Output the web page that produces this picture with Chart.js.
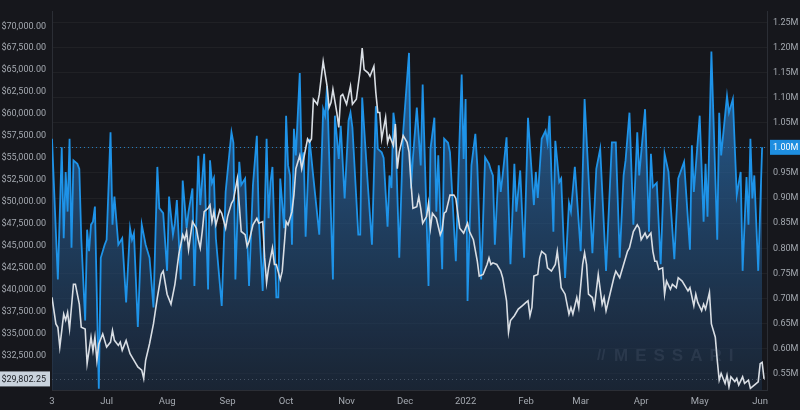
<!DOCTYPE html>
<html>
<head>
<meta charset="utf-8">
<script src="https://cdn.jsdelivr.net/npm/chart.js@4.4.0/dist/chart.umd.min.js"></script>
<style>
    html, body { margin: 0; padding: 0; background: #16171c; }
    #wrap { width: 800px; height: 410px; }
</style>
</head>
<body>
<div id="wrap"><canvas id="myChart" width="800" height="410"></canvas></div>
<script>
// Eje X: días desde el 3 de junio de 2021
var tickDays = [0, 28, 59, 90, 120, 151, 181, 212, 243, 271, 302, 332, 363];
var tickLabels = ["3", "Jul", "Aug", "Sep", "Oct", "Nov", "Dec", "2022", "Feb", "Mar", "Apr", "May", "Jun"];

// Direcciones activas (millones), eje derecho
var addrDays = [0, 3, 5, 6, 7, 8, 9, 10, 11, 13, 14, 15, 17, 18, 19, 20, 21, 22, 23, 24, 25, 27, 28, 30, 31, 32, 34, 36, 38, 40,
    41, 42, 44, 46, 48, 50, 52, 54, 55, 57, 59, 60, 62, 63, 64, 66, 67, 69, 70, 72, 73, 75, 76, 78, 80, 81, 82, 83, 84, 87,
    89, 90, 92, 93, 94, 96, 97, 99, 101, 103, 105, 106, 108, 110, 111, 112, 113, 115, 116, 117, 119, 120, 121, 122, 123, 124, 125, 127, 128, 129,
    130, 132, 134, 137, 139, 140, 141, 144, 145, 147, 148, 150, 152, 153, 154, 157, 158, 159, 160, 162, 164, 166, 167, 169, 170, 172, 173, 174, 175, 176,
    178, 180, 183, 184, 185, 187, 189, 190, 193, 194, 196, 197, 198, 200, 201, 203, 204, 207, 209, 210, 211, 212, 213, 215, 217, 218, 220, 222, 224, 225,
    226, 227, 229, 230, 231, 233, 235, 237, 238, 240, 242, 244, 247, 248, 249, 251, 253, 254, 255, 257, 258, 260, 261, 263, 265, 266, 268, 271, 273, 277,
    279, 281, 284, 287, 289, 291, 293, 294, 296, 298, 300, 301, 304, 306, 307, 308, 310, 312, 314, 316, 319, 321, 324, 327, 328, 329, 332, 334, 335, 336,
    338, 341, 342, 343, 345, 346, 347, 349, 351, 353, 354, 356, 357, 358, 359, 360, 362, 364];
var addrValues = [1.018, 0.738, 1.001, 0.820, 0.952, 0.873, 1.018, 0.801, 0.975, 0.968, 0.958, 0.820, 0.656, 0.837, 0.794, 0.847, 0.853, 0.883, 0.700, 0.520, 0.781, 0.807, 0.817, 1.031, 0.847, 0.903, 0.807, 0.820, 0.692, 0.840,
    0.817, 0.830, 0.643, 0.847, 0.807, 0.781, 0.682, 0.962, 0.880, 0.870, 0.755, 0.903, 0.827, 0.850, 0.896, 0.738, 0.935, 0.840, 0.873, 0.919, 0.725, 0.984, 0.886, 0.988, 0.718, 0.975, 0.930, 0.940, 0.820, 0.685,
    0.912, 0.952, 1.031, 1.010, 0.738, 0.972, 0.926, 0.939, 0.725, 0.926, 1.024, 0.860, 0.715, 1.018, 0.860, 0.932, 0.962, 0.702, 0.702, 0.939, 0.840, 1.064, 0.965, 0.945, 0.807, 1.038, 0.985, 1.149, 0.965, 0.991,
    0.823, 1.018, 0.940, 0.827, 1.077, 1.064, 1.123, 0.738, 1.064, 0.978, 1.044, 0.899, 1.054, 1.070, 1.040, 0.827, 0.827, 1.100, 1.040, 0.920, 0.807, 1.083, 0.998, 0.991, 0.980, 0.843, 0.945, 0.920, 1.070, 1.040,
    0.781, 1.031, 1.189, 0.919, 0.980, 1.080, 0.965, 1.126, 0.725, 0.998, 1.060, 0.873, 0.985, 0.758, 1.018, 1.010, 0.991, 0.774, 1.031, 1.146, 0.978, 1.097, 0.695, 0.965, 1.028, 0.965, 0.738, 0.981, 0.968, 0.955,
    0.945, 0.807, 0.965, 0.912, 0.945, 1.021, 0.768, 0.968, 0.873, 0.955, 0.781, 1.060, 0.886, 0.952, 0.900, 1.018, 1.034, 1.010, 1.064, 0.833, 1.014, 0.932, 0.939, 0.741, 0.890, 0.873, 0.962, 0.794, 1.097, 0.790,
    0.958, 0.998, 0.755, 1.011, 1.011, 0.781, 0.945, 0.975, 1.070, 0.847, 1.031, 0.945, 1.077, 0.833, 0.988, 0.922, 0.930, 0.768, 0.988, 0.952, 0.778, 0.939, 0.972, 0.797, 1.005, 0.912, 1.064, 0.853, 0.968, 0.863,
    1.192, 0.817, 1.070, 0.985, 1.064, 1.103, 1.070, 1.097, 0.906, 0.952, 0.755, 0.942, 0.847, 1.018, 0.899, 0.945, 0.755, 1.001];

// Precio (USD), eje izquierdo
var priceDays = [0, 2, 3, 4, 6, 7, 8, 9, 11, 12, 14, 15, 17, 18, 20, 21, 22, 23, 24, 26, 28, 30, 31, 32, 34, 35, 36, 38, 40, 43,
    44, 46, 47, 48, 50, 52, 54, 56, 57, 59, 61, 63, 65, 66, 67, 68, 69, 70, 72, 74, 75, 76, 77, 78, 80, 81, 82, 83, 84, 86,
    87, 89, 90, 92, 93, 95, 96, 97, 99, 100, 101, 103, 105, 106, 108, 109, 110, 111, 113, 114, 115, 117, 118, 120, 121, 123, 124, 125, 127, 128,
    129, 131, 132, 133, 134, 136, 137, 139, 141, 142, 143, 144, 146, 147, 148, 149, 151, 153, 154, 156, 158, 159, 160, 162, 163, 165, 166, 167, 168, 169,
    171, 172, 173, 175, 176, 177, 178, 180, 182, 183, 184, 185, 187, 188, 189, 190, 192, 193, 194, 195, 197, 199, 200, 201, 202, 204, 206, 207, 209, 211,
    213, 214, 216, 218, 219, 221, 223, 224, 225, 226, 228, 230, 231, 233, 234, 235, 237, 239, 241, 243, 244, 245, 246, 247, 249, 250, 251, 253, 254, 256,
    258, 259, 260, 261, 263, 265, 266, 267, 269, 270, 272, 273, 274, 275, 277, 278, 280, 282, 283, 284, 286, 288, 289, 291, 293, 295, 296, 298, 300, 301,
    302, 304, 305, 307, 308, 309, 310, 311, 313, 314, 315, 317, 318, 320, 321, 323, 325, 326, 327, 329, 330, 331, 333, 334, 335, 337, 338, 340, 341, 342,
    343, 345, 346, 347, 348, 350, 351, 352, 354, 355, 357, 358, 360, 362, 363, 364, 365];
var priceValues = [39100, 36070, 35690, 33430, 37200, 36500, 37390, 35500, 40590, 40590, 38330, 35690, 35500, 31550, 34560, 33000, 34560, 31930, 33800, 34940, 33430, 34000, 35320, 34200, 33620, 34000, 33060, 34190, 32680, 31550,
    31170, 30800, 29850, 31930, 33810, 36070, 39080, 41720, 42090, 39460, 38330, 40590, 43980, 45110, 46240, 45700, 46610, 44540, 47740, 46990, 45670, 44730, 46600, 48870, 49250, 49630, 47740, 48870, 47370, 49060,
    48690, 46990, 48310, 49820, 50190, 52640, 49630, 46610, 46240, 44920, 45480, 47370, 48120, 47550, 47740, 43600, 40780, 42470, 44730, 42850, 42850, 41150, 42090, 47740, 47370, 48870, 50760, 53770, 55280, 53770,
    54900, 57160, 56780, 57160, 61680, 61110, 62240, 66010, 63180, 60740, 61300, 62810, 60170, 58480, 62050, 62240, 61110, 63180, 61110, 61680, 65070, 67510, 65070, 64690, 64310, 65440, 62430, 60170, 60170, 57160,
    59610, 56780, 57540, 56410, 58850, 53770, 55650, 57540, 56780, 55650, 52260, 49250, 49440, 50570, 49250, 47550, 48310, 49820, 46990, 48690, 48120, 46240, 46800, 48690, 48870, 50760, 50760, 50380, 46990, 46430,
    47550, 46610, 45670, 43220, 41530, 41720, 42850, 43600, 42850, 43040, 42850, 42090, 41340, 38710, 35130, 36450, 37010, 37760, 38140, 38520, 38710, 37010, 37950, 41530, 41720, 43600, 44350, 43980, 42470, 42090,
    42850, 44350, 42470, 40210, 39460, 37200, 37950, 37200, 39080, 37950, 42850, 44170, 42850, 39460, 39080, 37950, 41720, 38330, 39080, 37570, 39460, 41340, 42090, 41340, 42850, 44350, 44730, 46610, 47370, 46990,
    45670, 46430, 45860, 46430, 44350, 43220, 43220, 42280, 42470, 39460, 40960, 40020, 40590, 40210, 41340, 40960, 40210, 39840, 40210, 38140, 39460, 38520, 37570, 38330, 37760, 39650, 36070, 34560, 31930, 29670,
    30420, 29290, 30230, 28910, 30040, 29500, 29850, 29100, 30040, 29290, 29670, 28730, 29100, 29480, 31550, 31700, 29802.25];

var priceTicks = [32500, 35000, 37500, 40000, 42500, 45000, 47500, 50000, 52500, 55000, 57500, 60000, 62500, 65000, 67500, 70000];
var addrTicks = [0.55, 0.60, 0.65, 0.70, 0.75, 0.80, 0.85, 0.90, 0.95, 1.00, 1.05, 1.10, 1.15, 1.20, 1.25];

var FONT = "Roboto, 'Liberation Sans', sans-serif";
var TICK_COLOR = "#a4a9b0";

function toPoints(xs, ys) {
    return xs.map(function (d, i) { return { x: d, y: ys[i] }; });
}
function fmtPrice(v) {
    return "$" + v.toLocaleString("en-US", { minimumFractionDigits: 2, maximumFractionDigits: 2 });
}
function fmtAddr(v) {
    return v.toFixed(2) + "M";
}

// Marcadores de último valor y marca de agua
var lastValues = {
    id: "lastValues",
    beforeDatasetsDraw: function (chart) {
        var ctx = chart.ctx, a = chart.chartArea;
        var yP = chart.scales.yPrice.getPixelForValue(priceValues[priceValues.length - 1]);
        var yA = chart.scales.yAddr.getPixelForValue(addrValues[addrValues.length - 1]);
        ctx.save();
        // líneas punteadas
        ctx.lineWidth = 1;
        ctx.setLineDash([1, 3]);
        ctx.strokeStyle = "rgba(200,210,220,0.55)";
        ctx.beginPath();
        ctx.moveTo(a.left, Math.round(yP) + 0.5);
        ctx.lineTo(a.right, Math.round(yP) + 0.5);
        ctx.stroke();
        ctx.strokeStyle = "rgba(40,150,230,0.8)";
        ctx.beginPath();
        ctx.moveTo(a.left, Math.round(yA) + 0.5);
        ctx.lineTo(a.right, Math.round(yA) + 0.5);
        ctx.stroke();
        ctx.restore();
    },
    afterDatasetsDraw: function (chart) {
        var ctx = chart.ctx, a = chart.chartArea;
        ctx.save();
        // marca de agua
        ctx.fillStyle = "rgba(150,165,185,0.13)";
        ctx.font = "bold 17px 'Liberation Sans', sans-serif";
        ctx.textBaseline = "middle";
        ctx.textAlign = "left";
        ctx.letterSpacing = "7px";
        ctx.fillText("MESSARI", a.right - 153, a.bottom - 34);
        ctx.letterSpacing = "0px";
        ctx.font = "bold 15px 'Liberation Sans', sans-serif";
        ctx.fillText("//", a.right - 170, a.bottom - 34);
        ctx.restore();
    },
    afterDraw: function (chart) {
        var ctx = chart.ctx, a = chart.chartArea;
        var lastP = priceValues[priceValues.length - 1];
        var lastA = addrValues[addrValues.length - 1];
        var yP = chart.scales.yPrice.getPixelForValue(lastP);
        var yA = chart.scales.yAddr.getPixelForValue(lastA);
        ctx.save();
        ctx.font = "9px " + FONT;
        ctx.textBaseline = "middle";
        // caja izquierda
        ctx.fillStyle = "#c9d2dc";
        ctx.fillRect(0, yP - 7.5, a.left - 2, 15);
        ctx.fillStyle = "#1b1e24";
        ctx.textAlign = "right";
        ctx.fillText(fmtPrice(lastP), a.left - 6, yP + 0.5);
        // caja derecha
        ctx.fillStyle = "#1e8ee0";
        ctx.fillRect(a.right + 3, yA - 7.5, chart.width - a.right - 3, 15);
        ctx.fillStyle = "#ffffff";
        ctx.textAlign = "left";
        ctx.fillText(fmtAddr(lastA), a.right + 6, yA + 0.5);
        ctx.restore();
    }
};

var ctx = document.getElementById("myChart").getContext("2d");
var chart = new Chart(ctx, {
    type: "line",
    data: {
        datasets: [
            {
                label: "Price",
                data: toPoints(priceDays, priceValues),
                yAxisID: "yPrice",
                borderColor: "#d9dee4",
                borderWidth: 1.6,
                pointRadius: 0,
                tension: 0,
                fill: false,
                order: 0
            },
            {
                label: "Active Addresses",
                data: toPoints(addrDays, addrValues),
                yAxisID: "yAddr",
                borderColor: "#1e93e8",
                borderWidth: 1.8,
                pointRadius: 0,
                tension: 0,
                fill: "start",
                backgroundColor: function (c) {
                    var area = c.chart.chartArea;
                    if (!area) return "rgba(40,110,180,0.5)";
                    var g = c.chart.ctx.createLinearGradient(0, area.top, 0, area.bottom);
                    g.addColorStop(0, "rgba(48,140,222,0.78)");
                    g.addColorStop(0.45, "rgba(40,98,155,0.64)");
                    g.addColorStop(1, "rgba(30,48,72,0.55)");
                    return g;
                },
                order: 1
            }
        ]
    },
    options: {
        responsive: false,
        animation: false,
        devicePixelRatio: 1,
        layout: { padding: { top: 8, left: 0, right: 0, bottom: 0 } },
        plugins: { legend: { display: false }, tooltip: { enabled: false } },
        scales: {
            x: {
                type: "linear",
                min: 0,
                max: 366.5,
                afterBuildTicks: function (axis) {
                    axis.ticks = tickDays.map(function (d) { return { value: d }; });
                },
                afterFit: function (s) { s.height = 20; },
                ticks: {
                    autoSkip: false,
                    maxRotation: 0,
                    padding: 6,
                    color: TICK_COLOR,
                    font: { family: FONT, size: 9.5 },
                    callback: function (v, i) { return tickLabels[i]; }
                },
                grid: { display: false, drawTicks: false },
                border: { display: true, color: "#2b2e35" }
            },
            yPrice: {
                type: "linear",
                position: "left",
                min: 28540,
                max: 71700,
                afterBuildTicks: function (axis) {
                    axis.ticks = priceTicks.map(function (v) { return { value: v }; });
                },
                afterFit: function (s) { s.width = 52; },
                ticks: {
                    padding: 6,
                    color: TICK_COLOR,
                    font: { family: FONT, size: 9 },
                    callback: function (v) { return fmtPrice(v); }
                },
                grid: { display: false, drawTicks: false },
                border: { display: true, color: "#2b2e35" }
            },
            yAddr: {
                type: "linear",
                position: "right",
                min: 0.5177,
                max: 1.2717,
                afterBuildTicks: function (axis) {
                    axis.ticks = addrTicks.map(function (v) { return { value: v }; });
                },
                afterFit: function (s) { s.width = 33; },
                ticks: {
                    padding: 6,
                    color: TICK_COLOR,
                    font: { family: FONT, size: 9 },
                    callback: function (v) { return fmtAddr(v); }
                },
                grid: { color: "rgba(255,255,255,0.045)", drawTicks: false },
                border: { display: true, color: "#2b2e35" }
            }
        }
    },
    plugins: [lastValues]
});
</script>
</body>
</html>
